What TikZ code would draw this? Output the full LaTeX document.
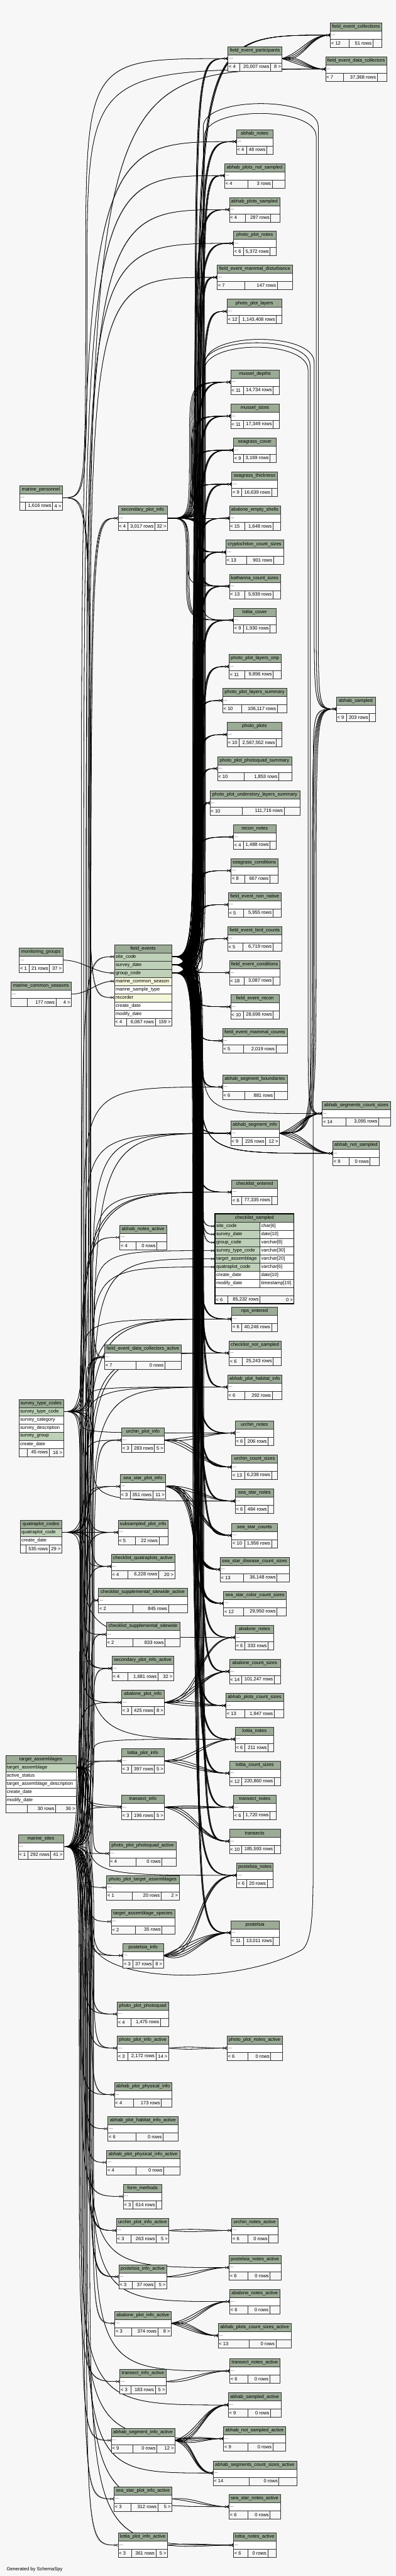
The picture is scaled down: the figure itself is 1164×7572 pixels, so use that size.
\documentclass[tikz,border=0pt]{standalone}
\usepackage{fontspec}
\setmainfont{Liberation Sans}
\usetikzlibrary{arrows.meta,calc,backgrounds}
\definecolor{bgc}{HTML}{F7F7F7}
\definecolor{hdrc}{HTML}{9BAB96}
\definecolor{pkc}{HTML}{BED1B8}
\definecolor{fkc}{HTML}{F4F7DA}
% footer row: name, x, y, width, parents, rows, children, split1, split2
\newcommand\tfoot[9]{%
  \node[ftr,minimum width=#4pt] (#1) at (#2,{#3}) {};
  \draw[cell] ([xshift=#8pt]#1.north west) -- ([xshift=#8pt]#1.south west)
              ([xshift=#9pt]#1.north west) -- ([xshift=#9pt]#1.south west);
  \node[ftxt,anchor=west] (#1-l) at (#1.west) {#5};
  \node[ftxt,anchor=east] (#1-m) at ([xshift=#9pt]#1.west) {#6};
  \node[ftxt,anchor=east] (#1-r) at (#1.east) {#7};}
% collapsed table
\newcommand\tbl[9]{%
  \node[hdr,minimum width=#4pt] (#1-h) at (#2,{#3}) {#1};
  \node[bdy,minimum width=#4pt] (#1) at (#2,{#3+24}) {};
  \node[ftxt,anchor=west] (#1-d) at (#1.west) {...};
  \tfoot{#1-f}{#2}{#3+48}{#4}{#5}{#6}{#7}{#8}{#9}}
% relation routed along a vertical channel
\newcommand\fk[3]{\draw[rel] let \p1=(#1),\p2=(#2) in (#1) .. controls (#3pt,\y1) and (#3pt,\y1) .. (#3pt,{(\y1+\y2)/2}) .. controls (#3pt,\y2) and (#3pt,\y2) .. (#2);}
% direct relations
\newcommand\dfk[3]{\foreach \k in {1,...,#3}{\pgfmathsetmacro\ang{(\k-(#3+1)/2)*12}\draw[rel] (#1) to[out=\ang,in=180] (#2);}}
% relation arching over the top
\newcommand\arcfk[5]{\draw[rel] let \p1=(#1),\p2=(#2) in (#1) .. controls (#3pt,\y1) and (#3pt,\y1) .. (#3pt,{\y1+400pt}) -- (#3pt,{-(#4+90)*1pt}) .. controls (#3pt,{-#4*1pt}) and (#5pt,{-#4*1pt}) .. (#5pt,{-(#4+90)*1pt}) -- (#5pt,{\y2+300pt}) .. controls (#5pt,\y2) and (#5pt,\y2) .. (#2);}
\catcode`\_=12
\begin{document}
\begin{tikzpicture}[x=1pt,y=-1pt,font=\fontsize{14}{16}\selectfont,
  hdr/.style={draw=black!80,fill=hdrc,minimum height=24pt,inner sep=0pt,anchor=north west},
  bdy/.style={draw=black!80,fill=white,minimum height=24pt,inner sep=0pt,anchor=north west},
  ftr/.style={bdy,fill=bgc},
  col/.style={bdy,align=left,inner xsep=4pt},
  ftxt/.style={inner sep=3pt},
  cell/.style={draw=black!80},
  rel/.style={line width=1pt,postaction={draw,-{Circle[fill=bgc,length=6pt,width=6pt]Straight Barb[reversed,length=5pt,width=8pt]}}}]
\useasboundingbox (0,0) rectangle (1164,7572);

% right column
\tbl{field_event_collections}{971}{67}{151}{< 12}{51 rows}{}{56}{125}
\tbl{field_event_participants}{670}{136}{159}{< 4}{20,007 rows}{8 >}{35}{125}
\tbl{field_event_data_collectors}{957}{167}{180}{< 7}{37,368 rows}{}{52}{152}
\tbl{abhab_notes}{695}{380}{107}{< 4}{48 rows}{}{29}{89}
\tbl{abhab_plots_not_sampled}{660}{480}{177}{< 4}{3 rows}{}{69}{140}
\tbl{abhab_plots_sampled}{674}{580}{148}{< 4}{287 rows}{}{47}{122}
\tbl{photo_plot_notes}{686}{679}{126}{< 6}{5,372 rows}{}{29}{108}
\tbl{field_event_mammal_disturbance}{638}{779}{222}{< 7}{147 rows}{}{82}{177}
\tbl{photo_plot_layers}{667}{879}{162}{< 12}{1,143,408 rows}{}{36}{145}
\tbl{mussel_depths}{678}{1087}{143}{< 11}{14,734 rows}{}{37}{125}
\tbl{mussel_sizes}{678}{1187}{143}{< 11}{17,349 rows}{}{37}{125}
\tbl{seagrass_cover}{686}{1287}{126}{< 9}{3,169 rows}{}{29}{108}
\tbl{seagrass_thickness}{681}{1387}{135}{< 9}{16,639 rows}{}{29}{117}
\tbl{abalone_empty_shells}{674}{1487}{150}{< 15}{1,648 rows}{}{45}{128}
\tbl{cryptochiton_count_sizes}{664}{1587}{169}{< 13}{901 rows}{}{60}{140}
\tbl{katharina_count_sizes}{674}{1687}{150}{< 13}{5,939 rows}{}{45}{128}
\tbl{lottia_cover}{686}{1787}{126}{< 9}{1,930 rows}{}{29}{108}
\tbl{photo_plot_layers_onp}{673}{1923}{153}{< 11}{9,896 rows}{}{47}{130}
\tbl{photo_plot_layers_summary}{654}{2023}{189}{< 10}{106,117 rows}{}{56}{161}
\tbl{abhab_sampled}{989}{2048}{114}{< 9}{203 rows}{}{30}{97}
\tbl{photo_plots}{667}{2123}{162}{< 10}{2,567,552 rows}{}{36}{145}
\tbl{photo_plot_photoquad_summary}{639}{2223}{218}{< 10}{1,853 rows}{}{79}{180}
\tbl{photo_plot_understory_layers_summary}{617}{2324}{264}{< 10}{111,716 rows}{}{94}{218}
\tbl{recon_notes}{686}{2424}{126}{< 4}{1,488 rows}{}{29}{108}
\tbl{seagrass_conditions}{679}{2523}{138}{< 8}{667 rows}{}{41}{114}
\tbl{field_event_non_native}{671}{2623}{156}{< 5}{5,955 rows}{}{44}{131}
\tbl{field_event_bird_counts}{669}{2723}{160}{< 5}{6,719 rows}{}{45}{133}
\tbl{field_event_conditions}{674}{2823}{149}{< 18}{3,087 rows}{}{44}{128}
\tbl{field_event_recon}{678}{2923}{143}{< 10}{28,696 rows}{}{37}{125}
\tbl{field_event_mammal_counts}{654}{3023}{190}{< 5}{2,019 rows}{}{61}{157}
\tbl{abhab_segment_boundaries}{654}{3159}{190}{< 6}{881 rows}{}{66}{152}
\tbl{abhab_segments_count_sizes}{947}{3237}{201}{< 14}{3,095 rows}{}{70}{166}
\tbl{abhab_segment_info}{678}{3295}{143}{< 9}{226 rows}{12 >}{33}{103}
\tbl{abhab_not_sampled}{978}{3354}{137}{< 9}{0 rows}{}{48}{110}
\tbl{checklist_entered}{681}{3468}{135}{< 6}{77,335 rows}{}{29}{117}
\tbl{nps_entered}{681}{3841}{135}{< 6}{40,246 rows}{}{29}{117}
\tbl{checklist_not_sampled}{673}{3941}{153}{< 6}{25,243 rows}{}{38}{130}
\tbl{abhab_plot_habitat_info}{669}{4041}{160}{< 6}{292 rows}{}{51}{131}
\tbl{urchin_notes}{691}{4176}{114}{< 6}{206 rows}{}{28}{97}
\tbl{urchin_count_sizes}{681}{4276}{135}{< 13}{6,238 rows}{}{38}{117}
\tbl{sea_star_notes}{691}{4376}{114}{< 6}{484 rows}{}{28}{97}
\tbl{sea_star_counts}{681}{4477}{135}{< 10}{1,956 rows}{}{38}{117}
\tbl{sea_star_disease_count_sizes}{647}{4577}{203}{< 13}{36,148 rows}{}{68}{167}
\tbl{sea_star_color_count_sizes}{657}{4677}{185}{< 12}{29,950 rows}{}{58}{157}
\tbl{abalone_notes}{691}{4777}{114}{< 6}{333 rows}{}{28}{97}
\tbl{abalone_count_sizes}{674}{4877}{150}{< 14}{101,247 rows}{}{36}{132}
\tbl{abhab_plots_count_sizes}{664}{4977}{169}{< 13}{1,947 rows}{}{55}{142}
\tbl{lottia_notes}{691}{5076}{114}{< 6}{211 rows}{}{28}{97}
\tbl{lottia_count_sizes}{674}{5176}{150}{< 12}{220,860 rows}{}{36}{132}
\tbl{transect_notes}{686}{5276}{126}{< 6}{1,720 rows}{}{29}{108}
\tbl{transects}{674}{5376}{150}{< 10}{185,593 rows}{}{36}{132}
\tbl{postelsia_notes}{696}{5476}{107}{< 6}{20 rows}{}{28}{89}
\tbl{postelsia}{678}{5645}{143}{< 11}{13,011 rows}{}{37}{125}
\tbl{photo_plot_notes_active}{667}{5984}{163}{< 6}{0 rows}{}{62}{129}
\tbl{urchin_notes_active}{681}{6520}{136}{< 6}{0 rows}{}{48}{109}
\tbl{postelsia_notes_active}{673}{6629}{153}{< 6}{0 rows}{}{56}{121}
\tbl{abalone_notes_active}{675}{6729}{148}{< 6}{0 rows}{}{54}{118}
\tbl{abhab_plots_count_sizes_active}{641}{6829}{215}{< 13}{0 rows}{}{91}{170}
\tbl{transect_notes_active}{675}{6933}{148}{< 6}{0 rows}{}{54}{118}
\tbl{abhab_sampled_active}{671}{7033}{155}{< 9}{0 rows}{}{58}{124}
\tbl{abhab_not_sampled_active}{657}{7132}{183}{< 9}{0 rows}{}{72}{145}
\tbl{abhab_segments_count_sizes_active}{626}{7233}{246}{< 14}{0 rows}{}{107}{194}
\tbl{sea_star_notes_active}{673}{7332}{151}{< 6}{0 rows}{}{56}{121}
\tbl{lottia_notes_active}{686}{7445}{126}{< 6}{0 rows}{}{43}{101}

% middle column
\tbl{secondary_plot_info}{347}{1487}{145}{< 4}{3,017 rows}{32 >}{29}{108}
\tbl{abhab_notes_active}{352}{3601}{137}{< 4}{0 rows}{}{48}{109}
\tbl{field_event_data_collectors_active}{307}{3953}{226}{< 7}{0 rows}{}{93}{177}
\tbl{urchin_plot_info}{357}{4197}{126}{< 3}{283 rows}{5 >}{29}{97}
\tbl{sea_star_plot_info}{353}{4333}{134}{< 3}{351 rows}{11 >}{29}{96}
\tbl{subsampled_plot_info}{347}{4468}{147}{< 5}{22 rows}{}{50}{120}
\tbl{checklist_quatraplots_active}{327}{4568}{186}{< 4}{6,228 rows}{20 >}{49}{139}
\tbl{checklist_supplemental_sitewide_active}{289}{4668}{261}{< 2}{845 rows}{}{102}{206}
\tbl{checklist_supplemental_sitewide}{312}{4768}{216}{< 2}{833 rows}{}{79}{173}
\tbl{secondary_plot_info_active}{329}{4868}{181}{< 4}{1,681 rows}{32 >}{47}{135}
\tbl{abalone_plot_info}{357}{4968}{126}{< 3}{425 rows}{8 >}{29}{97}
\tbl{lottia_plot_info}{357}{5140}{126}{< 3}{397 rows}{5 >}{29}{97}
\tbl{transect_info}{357}{5276}{126}{< 3}{196 rows}{5 >}{29}{97}
\tbl{photo_plot_photoquad_active}{321}{5412}{197}{< 4}{0 rows}{}{79}{155}
\tbl{photo_plot_target_assemblages}{313}{5512}{213}{< 1}{20 rows}{2 >}{76}{160}
\tbl{target_assemblage_species}{327}{5612}{186}{< 2}{35 rows}{}{70}{149}
\tbl{postelsia_info}{361}{5712}{119}{< 3}{37 rows}{8 >}{29}{89}
\tbl{photo_plot_photoquad}{344}{5884}{151}{< 4}{1,475 rows}{}{41}{127}
\tbl{photo_plot_info_active}{344}{5984}{151}{< 3}{2,172 rows}{14 >}{32}{114}
\tbl{abhab_plot_physical_info}{336}{6121}{169}{< 4}{173 rows}{}{56}{138}
\tbl{abhab_plot_habitat_info_active}{317}{6221}{206}{< 6}{0 rows}{}{82}{162}
\tbl{abhab_plot_physical_info_active}{313}{6320}{215}{< 4}{0 rows}{}{86}{168}
\tbl{form_methods}{362}{6420}{114}{< 3}{614 rows}{}{29}{97}
\tbl{urchin_plot_info_active}{342}{6520}{154}{< 3}{263 rows}{5 >}{42}{117}
\tbl{postelsia_info_active}{349}{6656}{141}{< 3}{37 rows}{5 >}{40}{106}
\tbl{abalone_plot_info_active}{337}{6793}{166}{< 3}{374 rows}{8 >}{49}{127}
\tbl{transect_info_active}{352}{6964}{136}{< 3}{183 rows}{5 >}{33}{104}
\tbl{abhab_segment_info_active}{327}{7137}{187}{< 9}{0 rows}{12 >}{64}{134}
\tbl{sea_star_plot_info_active}{335}{7309}{170}{< 3}{312 rows}{5 >}{50}{129}
\tbl{lottia_plot_info_active}{347}{7445}{145}{< 3}{361 rows}{5 >}{39}{111}

% left column
\tbl{marine_personnel}{57}{1427}{126}{}{1,616 rows}{4 >}{17}{97}
\tbl{monitoring_groups}{56}{2786}{128}{< 1}{21 rows}{37 >}{29}{89}
\tbl{marine_common_seasons}{32}{2886}{177}{}{177 rows}{4 >}{48}{132}
\tbl{marine_sites}{53}{5392}{134}{< 1}{292 rows}{41 >}{29}{96}

\node[hdr,minimum width=169pt] (field_events) at (336,2776) {field_events};
\foreach \cn/\cl [count=\i] in {site_code/pkc,survey_date/pkc,group_code/pkc,marine_common_season/fkc,marine_sample_type/white,recorder/fkc,create_date/white,modify_date/white}
  \node[col,fill=\cl,text width=161pt] (fe-\cn) at (336,{2776+24*\i}) {\cn};
\tfoot{field_events-f}{336}{2992}{169}{< 4}{6,067 rows}{159 >}{36}{120}

\node[hdr,minimum width=131pt] (survey_type_codes) at (55,4113) {survey_type_codes};
\foreach \cn/\cl [count=\i] in {survey_type_code/pkc,survey_category/white,survey_description/white,survey_group/pkc,create_date/white}
  \node[col,fill=\cl,text width=123pt] (stc-\cn) at (55,{4113+24*\i}) {\cn};
\tfoot{survey_type_codes-f}{55}{4257}{131}{}{45 rows}{16 >}{24}{89}

\node[hdr,minimum width=122pt] (quatraplot_codes) at (59,4468) {quatraplot_codes};
\foreach \cn/\cl [count=\i] in {quatraplot_code/pkc,create_date/white}
  \node[col,fill=\cl,text width=114pt] (qc-\cn) at (59,{4468+24*\i}) {\cn};
\tfoot{quatraplot_codes-f}{59}{4540}{122}{}{535 rows}{29 >}{17}{85}

\node[hdr,minimum width=208pt] (target_assemblages) at (16,5160) {target_assemblages};
\foreach \cn/\cl [count=\i] in {target_assemblage/pkc,active_status/white,target_assemblage_description/white,create_date/white,modify_date/white}
  \node[col,fill=\cl,text width=200pt] (ta-\cn) at (16,{5160+24*\i}) {\cn};
\tfoot{target_assemblages-f}{16}{5304}{208}{}{30 rows}{36 >}{64}{147}

% the table in focus
\node[hdr,minimum width=232pt] (checklist_sampled) at (632,3568) {checklist_sampled};
\foreach \cn/\ty/\cl [count=\i] in {site_code/char[6]/pkc,survey_date/date[10]/pkc,group_code/varchar[8]/pkc,survey_type_code/varchar[30]/pkc,target_assemblage/varchar[20]/pkc,quatraplot_code/varchar[6]/pkc,create_date/date[10]/white,modify_date/timestamp[19]/white}{%
  \node[col,fill=\cl,text width=124pt] (cs-\cn) at (632,{3568+24*\i}) {\cn};
  \node[col,fill=white,text width=92pt] (cs-\cn-t) at (764,{3568+24*\i}) {\ty};}
\tfoot{checklist_sampled-f}{632}{3808}{232}{< 6}{85,232 rows}{0 >}{37}{132}
\draw[line width=2.5pt] (checklist_sampled.north west) rectangle (checklist_sampled-f.south east);

\node[anchor=west] (gen) at (16,7552) {Generated by SchemaSpy};

\begin{pgfonlayer}{background}
\fill[bgc] (0,0) rectangle (1164,7572);
% field_events keys
\foreach \tg [count=\i] in {field_event_participants,field_event_collections,abhab_notes,abhab_plots_not_sampled,%
abhab_plots_sampled,photo_plot_notes,field_event_mammal_disturbance,photo_plot_layers,mussel_depths,mussel_sizes,%
seagrass_cover,seagrass_thickness,abalone_empty_shells,cryptochiton_count_sizes,katharina_count_sizes,lottia_cover,%
photo_plot_layers_onp,photo_plot_layers_summary,photo_plots,photo_plot_photoquad_summary,%
photo_plot_understory_layers_summary,recon_notes,seagrass_conditions,field_event_non_native,field_event_bird_counts,%
field_event_conditions,field_event_recon,field_event_mammal_counts,abhab_segment_boundaries,abhab_segment_info,%
checklist_entered,nps_entered,checklist_not_sampled,abhab_plot_habitat_info,urchin_notes,urchin_count_sizes,%
sea_star_notes,sea_star_counts,sea_star_disease_count_sizes,sea_star_color_count_sizes,abalone_notes,%
abalone_count_sizes,abhab_plots_count_sizes,lottia_notes,lottia_count_sizes,transect_notes,transects,%
postelsia_notes,postelsia,abhab_not_sampled}{%
  \pgfmathsetmacro\busx{564+mod(\i*7,30)}%
  \foreach \rw [count=\j] in {site_code,survey_date,group_code}{%
    \pgfmathsetmacro\busxx{\busx+2*\j}\fk{fe-\rw.east}{\tg.west}{\busxx}}}
\foreach \rw [count=\j] in {site_code,survey_date,group_code}{%
  \pgfmathsetmacro\busx{584+3*\j}\fk{fe-\rw.east}{cs-\rw.west}{\busx}}
\arcfk{fe-site_code.east}{abhab_sampled.west}{598}{282}{936}
\arcfk{fe-survey_date.east}{abhab_sampled.west}{601}{311}{930}
\arcfk{fe-group_code.east}{abhab_sampled.west}{604}{975}{924}
\arcfk{fe-site_code.east}{abhab_segments_count_sizes.west}{598}{985}{912}
\arcfk{fe-survey_date.east}{abhab_segments_count_sizes.west}{601}{998}{906}
\fk{fe-group_code.east}{abhab_segments_count_sizes.west}{596}

% secondary_plot_info keys
\foreach \tg [count=\i] in {mussel_depths,mussel_sizes,seagrass_cover,seagrass_thickness,abalone_empty_shells,%
cryptochiton_count_sizes,katharina_count_sizes,lottia_cover}{%
  \foreach \j in {1,...,4}{\pgfmathsetmacro\busx{548+mod(\i*5+\j*4,48)}\fk{secondary_plot_info.east}{\tg.west}{\busx}}}

% lookup tables
\fk{marine_sites.east}{fe-site_code.west}{240}
\draw[rel] (monitoring_groups.east) to[out=0,in=180] (fe-group_code.west);
\draw[rel] (marine_common_seasons.east) to[out=0,in=180] (fe-marine_common_season.west);
\fk{marine_personnel.east}{fe-recorder.west}{262}
\fk{marine_personnel.east}{field_event_participants.west}{252}
\fk{marine_personnel.east}{field_event_data_collectors.west}{256}
\fk{marine_personnel.east}{field_event_data_collectors_active.west}{266}
\fk{stc-survey_type_code.east}{cs-survey_type_code.west}{276}
\fk{ta-target_assemblage.east}{cs-target_assemblage.west}{272}
\fk{qc-quatraplot_code.east}{cs-quatraplot_code.west}{268}
\foreach \tg [count=\i] in {abhab_notes,abhab_plots_not_sampled,abhab_plots_sampled,field_event_data_collectors,%
secondary_plot_info,abhab_segment_info,checklist_entered,abhab_notes_active,field_event_data_collectors_active,%
nps_entered,checklist_not_sampled,abhab_plot_habitat_info,urchin_plot_info,sea_star_plot_info,subsampled_plot_info,%
checklist_quatraplots_active,checklist_supplemental_sitewide_active,checklist_supplemental_sitewide,%
secondary_plot_info_active,abalone_plot_info,lottia_plot_info,transect_info,photo_plot_photoquad_active,%
postelsia_info,photo_plot_photoquad,photo_plot_info_active,abhab_plot_physical_info,abhab_plot_habitat_info_active,%
abhab_plot_physical_info_active,urchin_plot_info_active,postelsia_info_active,abalone_plot_info_active,%
transect_info_active,abhab_segment_info_active,sea_star_plot_info_active,lottia_plot_info_active,%
postelsia_notes_active,abalone_notes_active,transect_notes_active,abhab_sampled_active,abhab_not_sampled_active,%
abhab_segments_count_sizes_active,sea_star_notes_active,lottia_notes_active}{%
  \pgfmathsetmacro\busx{232+mod(\i*7,46)}\fk{marine_sites.east}{\tg.west}{\busx}}
\foreach \tg [count=\i] in {nps_entered,checklist_not_sampled,abhab_plot_habitat_info,checklist_entered,urchin_notes,%
abhab_segment_info,subsampled_plot_info,checklist_quatraplots_active,secondary_plot_info_active,%
abhab_segment_boundaries,photo_plot_notes,field_event_mammal_disturbance,sea_star_notes,abalone_notes,lottia_notes}{%
  \pgfmathsetmacro\busx{236+mod(\i*9,40)}\fk{stc-survey_type_code.east}{\tg.west}{\busx}}
\foreach \tg [count=\i] in {subsampled_plot_info,checklist_quatraplots_active,checklist_supplemental_sitewide_active,%
checklist_supplemental_sitewide,secondary_plot_info_active,secondary_plot_info,abalone_plot_info,urchin_plot_info,%
sea_star_plot_info,abhab_segment_info,abhab_plot_habitat_info,field_event_data_collectors_active}{%
  \pgfmathsetmacro\busx{238+mod(\i*11,38)}\fk{qc-quatraplot_code.east}{\tg.west}{\busx}}
\foreach \tg [count=\i] in {lottia_plot_info,transect_info,photo_plot_photoquad_active,photo_plot_target_assemblages,%
target_assemblage_species,postelsia_info,photo_plot_photoquad,photo_plot_info_active,abhab_plot_physical_info,%
form_methods,urchin_plot_info_active,postelsia_info_active,checklist_entered,nps_entered,checklist_not_sampled,%
lottia_notes,transect_notes,postelsia_notes}{%
  \pgfmathsetmacro\busx{234+mod(\i*13,42)}\fk{ta-target_assemblage.east}{\tg.west}{\busx}}
\draw[rel] (marine_sites.east) .. controls (270,5428) and (268,5560) .. (270,5700) .. controls (272,5830) and (700,5840) .. (890,5730) .. controls (921,5700) and (921,5600) .. (921,5450) -- (921,2300) .. controls (921,2084) and (921,2084) .. (abhab_sampled.west);

% plot info tables
\dfk{field_event_participants.east}{field_event_collections.west}{4}
\dfk{field_event_participants.east}{field_event_data_collectors.west}{4}
\dfk{abhab_segment_info.east}{abhab_segments_count_sizes.west}{4}
\dfk{abhab_segment_info.east}{abhab_not_sampled.west}{4}
\foreach \j in {1,...,4}{\pgfmathsetmacro\busx{914+4*\j}\fk{abhab_segment_info.east}{abhab_sampled.west}{\busx}}
\dfk{urchin_plot_info.east}{urchin_notes.west}{2}
\dfk{urchin_plot_info.east}{urchin_count_sizes.west}{3}
\dfk{sea_star_plot_info.east}{sea_star_notes.west}{2}
\dfk{sea_star_plot_info.east}{sea_star_counts.west}{3}
\dfk{sea_star_plot_info.east}{sea_star_disease_count_sizes.west}{3}
\dfk{sea_star_plot_info.east}{sea_star_color_count_sizes.west}{3}
\dfk{abalone_plot_info.east}{abalone_notes.west}{2}
\dfk{abalone_plot_info.east}{abalone_count_sizes.west}{3}
\dfk{abalone_plot_info.east}{abhab_plots_count_sizes.west}{3}
\dfk{lottia_plot_info.east}{lottia_notes.west}{2}
\dfk{lottia_plot_info.east}{lottia_count_sizes.west}{3}
\dfk{transect_info.east}{transect_notes.west}{2}
\dfk{transect_info.east}{transects.west}{3}
\dfk{postelsia_info.east}{postelsia_notes.west}{3}
\dfk{postelsia_info.east}{postelsia.west}{5}
\dfk{photo_plot_info_active.east}{photo_plot_notes_active.west}{2}
\dfk{urchin_plot_info_active.east}{urchin_notes_active.west}{2}
\dfk{postelsia_info_active.east}{postelsia_notes_active.west}{2}
\dfk{abalone_plot_info_active.east}{abalone_notes_active.west}{3}
\dfk{abalone_plot_info_active.east}{abhab_plots_count_sizes_active.west}{4}
\dfk{transect_info_active.east}{transect_notes_active.west}{2}
\dfk{abhab_segment_info_active.east}{abhab_sampled_active.west}{4}
\dfk{abhab_segment_info_active.east}{abhab_not_sampled_active.west}{4}
\dfk{abhab_segment_info_active.east}{abhab_segments_count_sizes_active.west}{4}
\dfk{sea_star_plot_info_active.east}{sea_star_notes_active.west}{2}
\dfk{lottia_plot_info_active.east}{lottia_notes_active.west}{2}
\end{pgfonlayer}
\end{tikzpicture}
\end{document}
